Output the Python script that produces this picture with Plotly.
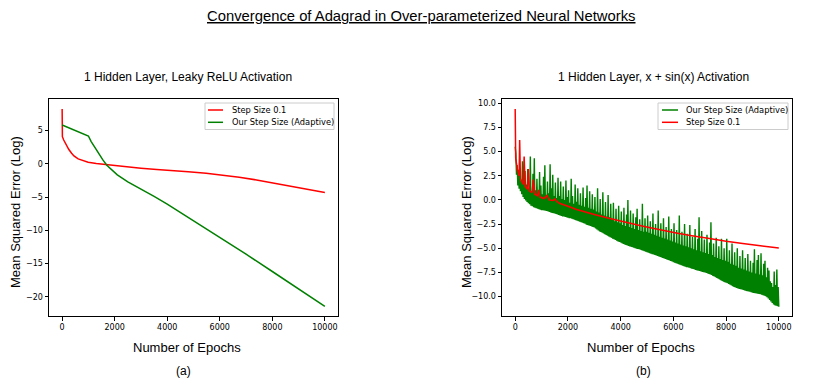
import plotly.graph_objects as go

# ---------------- data ----------------
# (a) Leaky ReLU
step_a_epochs = [0, 10, 60, 120, 170, 250, 360, 450, 610, 800, 990, 1300, 1745, 2300,
                 3000, 3600, 4220, 4800, 5480, 6100, 6740, 7400, 8000, 8600, 9000, 9500, 10000]
step_a_mse = [8.25, 4.1, 3.6, 3.1, 2.85, 2.2, 1.6, 1.2, 0.75, 0.45, 0.25, 0.05, -0.15, -0.4,
              -0.65, -0.85, -1.0, -1.2, -1.42, -1.68, -2.0, -2.42, -2.88, -3.33, -3.64, -3.98, -4.3]

adapt_a_epochs = [0, 1000, 1100, 1250, 1400, 1550, 1700, 1850, 2000, 2100, 2500, 3000,
                  3500, 4000, 5000, 6000, 7000, 8000, 9000, 10000]
adapt_a_mse = [5.85, 4.2, 3.4, 2.4, 1.5, 0.6, -0.2, -0.8, -1.3, -1.65, -2.7, -3.75,
               -4.9, -6.05, -8.55, -11.05, -13.6, -16.2, -18.8, -21.45]

# (b) x + sin(x)  -- noisy adaptive curve, one row per 500 epochs (sampled every 25 epochs)
adapt_b_epochs = list(range(0, 10001, 25))
adapt_b_mse = [
    5.5, 4.8, 2.6, 3.6, 1.5, 2.6, 1.15, 3.3, 0.9, 2.0, 0.6, 4.0, 0.3, 2.3, 0.1, 3.0, -0.05, 1.6, -0.2, 3.2,
    -0.35, 1.2, -0.45, 4.5, -0.6, 0.9, -0.65, 2.7, -0.75, 4.3, -0.8, 1.0, -0.85, 2.2, -0.9, 0.8, -0.95, 2.9, -1.0, 1.5,
    -1.05, 0.6, -1.07, 2.4, -1.1, 3.6, -1.12, 0.5, -1.15, 1.9, -1.2, 0.7, -1.25, 3.7, -1.3, 1.2, -1.35, 2.6, -1.37, 0.4,
    -1.4, 1.8, -1.45, 0.2, -1.5, 2.3, -1.55, 0.4, -1.6, 1.9, -1.65, 0.1, -1.7, 1.4, -1.72, 0.0, -1.75, 2.0, -1.8, 0.3,
    -1.85, 1.0, -1.88, -0.3, -1.9, 2.2, -1.95, 0.4, -2.0, -0.4, -2.05, 1.6, -2.1, -0.2, -2.15, 1.2, -2.2, -0.5, -2.25, 0.7,
    -2.3, -0.6, -2.35, 1.3, -2.4, -0.7, -2.47, 0.2, -2.55, 1.5, -2.6, -0.8, -2.65, 0.9, -2.7, -0.9, -2.75, 0.6, -2.8, -1.0,
    -2.85, 0.3, -2.95, -1.2, -3.05, 1.2, -3.15, -1.3, -3.25, 0.1, -3.3, -1.5, -3.4, 0.8, -3.47, -1.6, -3.55, -0.2, -3.62, -1.7,
    -3.7, 0.5, -3.77, -1.8, -3.85, -0.4, -3.92, -2.0, -4.0, -0.3, -4.07, -2.2, -4.15, -0.9, -4.22, -2.3, -4.3, -0.6, -4.35, -2.4,
    -4.4, -1.2, -4.47, -2.6, -4.55, -0.8, -4.6, -2.7, -4.65, -1.5, -4.7, 0.0, -4.75, -2.8, -4.8, -1.1, -4.85, -2.9, -4.9, -1.4,
    -4.95, -3.0, -5.0, -1.8, -5.05, -0.9, -5.07, -3.1, -5.1, -2.0, -5.15, -3.2, -5.2, -0.4, -5.25, -3.3, -5.3, -1.9, -5.35, -3.3,
    -5.4, -1.6, -5.45, -3.4, -5.5, -2.2, -5.55, -3.5, -5.6, -1.4, -5.65, -3.6, -5.7, -2.5, -5.75, -3.7, -5.8, -1.1, -5.85, -3.8,
    -5.9, -2.4, -5.95, -3.9, -6.0, -1.9, -6.05, -4.0, -6.1, -2.8, -6.15, -4.1, -6.2, -1.7, -6.25, -4.2, -6.3, -3.0, -6.37, -4.3,
    -6.45, -2.4, -6.5, -4.4, -6.55, -3.1, -6.6, -4.5, -6.65, -1.6, -6.7, -4.6, -6.75, -3.3, -6.8, -4.7, -6.85, -2.5, -6.9, -4.8,
    -6.95, -3.5, -6.97, -4.9, -7.0, -2.6, -7.05, -5.0, -7.1, -3.8, -7.15, -5.1, -7.2, -3.0, -7.25, -5.2, -7.3, -4.0, -7.32, -1.8,
    -7.35, -5.3, -7.4, -3.2, -7.45, -5.4, -7.47, -4.1, -7.5, -5.5, -7.55, -3.6, -7.6, -5.6, -7.65, -4.4, -7.7, -2.3, -7.77, -5.7,
    -7.85, -4.5, -7.92, -5.9, -8.0, -3.9, -8.07, -6.0, -8.15, -4.8, -8.22, -6.1, -8.3, -4.0, -8.37, -6.2, -8.45, -5.0, -8.5, -6.3,
    -8.55, -4.0, -8.62, -6.4, -8.7, -5.2, -8.77, -6.6, -8.85, -4.5, -8.92, -6.7, -9.0, -5.4, -9.05, -6.8, -9.1, -5.0, -9.15, -7.0,
    -9.2, -5.8, -9.22, -7.1, -9.25, -5.2, -9.3, -7.2, -9.35, -6.0, -9.4, -7.3, -9.45, -5.6, -9.47, -7.4, -9.5, -6.3, -9.55, -7.5,
    -9.6, -6.5, -9.62, -5.1, -9.65, -7.6, -9.67, -6.2, -9.7, -5.7, -9.72, -7.7, -9.75, -5.5, -9.8, -7.8, -9.85, -6.6, -9.9, -6.3,
    -9.95, -8.0, -10.05, -7.0, -10.2, -7.3, -10.35, -8.4, -10.5, -8.6, -10.65, -9.0, -10.8, -7.4, -10.9, -8.8, -10.95, -7.2, -11.0, -9.0,
    -11.05,
]
assert len(adapt_b_epochs) == len(adapt_b_mse)

step_b_epochs = [0, 20, 80, 150, 170, 200, 300, 340, 380, 460, 500, 540, 640, 690, 740, 840, 880, 940,
                 1100, 1200, 1300, 1450, 1500, 1600, 1700, 2000, 2330, 3000, 3590, 4200, 4850, 5500,
                 6110, 6700, 7370, 8000, 8630, 9300, 10000]
step_b_mse = [9.4, 4.3, 3.2, 2.5, 6.2, 2.2, 1.6, 4.5, 1.4, 1.1, 3.2, 0.95, 0.75, 2.1, 0.6, 0.45, 1.05, 0.3,
              0.15, 0.45, 0.0, -0.05, 0.1, -0.2, -0.37, -0.65, -0.99, -1.5, -1.92, -2.3, -2.71, -3.08,
              -3.41, -3.7, -3.99, -4.27, -4.51, -4.74, -4.96]

epoch_ticks = [0, 2000, 4000, 6000, 8000, 10000]
epoch_tick_text = ["0", "2000", "4000", "6000", "8000", "10000"]

legend_a = [("Step Size 0.1", "#ff0000"), ("Our Step Size (Adaptive)", "#008000")]
legend_b = [("Our Step Size (Adaptive)", "#008000"), ("Step Size 0.1", "#ff0000")]

RED = "#ff0000"
GREEN = "#008000"

# The page body has an 8px margin, so the figure is sized to fill the window exactly
OFF = 8
W, H = 830 - 2 * OFF, 390 - 2 * OFF


def fx(p):
    return (p - OFF) / W


def fy(p):
    return 1 - (p - OFF) / H


TICKFONT = dict(family="DejaVu Sans", size=8, color="#000000")
LABELFONT = "Liberation Sans, Arial, sans-serif"
LEGFONT = dict(family="DejaVu Sans", size=8.3, color="#000000")

fig = go.Figure()
fig.add_trace(go.Scatter(x=step_a_epochs, y=step_a_mse, mode="lines", name="Step Size 0.1",
                         line=dict(color=RED, width=1.5), xaxis="x", yaxis="y"))
fig.add_trace(go.Scatter(x=adapt_a_epochs, y=adapt_a_mse, mode="lines", name="Our Step Size (Adaptive)",
                         line=dict(color=GREEN, width=1.5), xaxis="x", yaxis="y"))
fig.add_trace(go.Scatter(x=adapt_b_epochs, y=adapt_b_mse, mode="lines", name="Our Step Size (Adaptive)",
                         line=dict(color=GREEN, width=1.4, simplify=False), xaxis="x2", yaxis="y2"))
fig.add_trace(go.Scatter(x=step_b_epochs, y=step_b_mse, mode="lines", name="Step Size 0.1",
                         line=dict(color=RED, width=1.5, simplify=False), xaxis="x2", yaxis="y2"))

ydom = [fy(316), fy(99)]
axis_common = dict(showline=True, linecolor="#000000", linewidth=1, mirror=True, ticks="outside",
                   ticklen=3.5, tickwidth=1, tickcolor="#000000", showgrid=False, zeroline=False,
                   tickfont=TICKFONT)

fig.update_layout(
    width=W, height=H, margin=dict(l=0, r=0, t=0, b=0),
    paper_bgcolor="white", plot_bgcolor="white", showlegend=False,
    xaxis=dict(domain=[fx(49), fx(338)], range=[-500, 10500], tickvals=epoch_ticks, ticktext=epoch_tick_text,
               anchor="y", **axis_common),
    yaxis=dict(domain=ydom, range=[-22.9, 9.77], tick0=0, dtick=5, anchor="x", **axis_common),
    xaxis2=dict(domain=[fx(502), fx(792)], range=[-500, 10500], tickvals=epoch_ticks, ticktext=epoch_tick_text,
                anchor="y2", **axis_common),
    yaxis2=dict(domain=ydom, range=[-12.0, 10.44], tick0=0, dtick=2.5, tickformat=".1f", anchor="x2",
                **axis_common),
)

ann = [
    dict(text="<u>Convergence of Adagrad in Over-parameterized Neural Networks</u>", x=fx(421), y=fy(16),
         font=dict(size=14.8, family=LABELFONT)),
    dict(text="1 Hidden Layer, Leaky ReLU Activation", x=fx(188), y=fy(77), font=dict(size=12, family=LABELFONT)),
    dict(text="1 Hidden Layer, x + sin(x) Activation", x=fx(653), y=fy(77), font=dict(size=12, family=LABELFONT)),
    dict(text="Number of Epochs", x=fx(187), y=fy(347), font=dict(size=13, family=LABELFONT)),
    dict(text="Number of Epochs", x=fx(641), y=fy(347), font=dict(size=13, family=LABELFONT)),
    dict(text="(a)", x=fx(183), y=fy(371), font=dict(size=12, family=LABELFONT)),
    dict(text="(b)", x=fx(643), y=fy(371), font=dict(size=12, family=LABELFONT)),
    dict(text="Mean Squared Error (Log)", x=fx(16), y=fy(212), textangle=-90,
         font=dict(size=13, family=LABELFONT)),
    dict(text="Mean Squared Error (Log)", x=fx(467), y=fy(212), textangle=-90,
         font=dict(size=13, family=LABELFONT)),
]
for a in ann:
    a.update(xref="paper", yref="paper", showarrow=False, xanchor="center", yanchor="middle")
    a["font"]["color"] = "#000000"

shapes = []
# matplotlib-style legends (box, line samples, labels)
for entries, (bx0, bx1), (lx0, lx1, tx) in [
    (legend_a, (205, 334), (208, 223, 230)),
    (legend_b, (658, 788), (662, 678, 684)),
]:
    shapes.append(dict(type="rect", xref="paper", yref="paper", x0=fx(bx0), x1=fx(bx1), y0=fy(129.5), y1=fy(103),
                       line=dict(color="#cccccc", width=1), fillcolor="rgba(255,255,255,0.8)", layer="above"))
    for i, (label, col) in enumerate(entries):
        yy = 110 + 12.3 * i
        shapes.append(dict(type="line", xref="paper", yref="paper", x0=fx(lx0), x1=fx(lx1), y0=fy(yy), y1=fy(yy),
                           line=dict(color=col, width=1.5), layer="above"))
        ann.append(dict(text=label, x=fx(tx), y=fy(yy), xref="paper", yref="paper", showarrow=False,
                        xanchor="left", yanchor="middle", font=LEGFONT))

fig.update_layout(annotations=ann, shapes=shapes)

fig.write_html("out.html")
